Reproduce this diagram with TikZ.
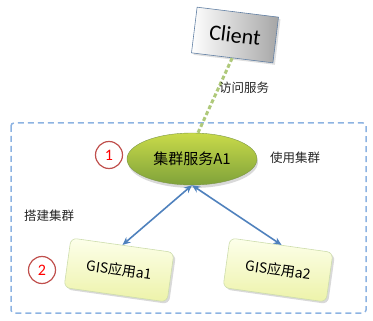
\documentclass[tikz,border=0pt]{standalone}
\usepackage{fontspec}
\setmainfont{Carlito}
\newfontfamily\cjk{Noto Sans CJK SC}
\usetikzlibrary{shapes.geometric,shadows,arrows.meta,calc}
\definecolor{frameblue}{HTML}{8DB3E2}
\definecolor{arrowblue}{HTML}{4F81BD}
\definecolor{lgreen}{HTML}{9BBB59}
\definecolor{dgreen}{HTML}{7FA23A}
\definecolor{circred}{HTML}{C0504D}
\tikzset{
  clientbox/.style={draw=arrowblue!60!gray, line width=0.6pt, minimum width=82pt, minimum height=46pt,
    left color=white, right color=gray!70, font=\fontsize{22}{24}\selectfont,
    drop shadow={opacity=0.25, shadow xshift=2pt, shadow yshift=-2pt}},
  appbox/.style={draw=lgreen!50, line width=0.6pt, rounded corners=6pt, minimum width=104pt, minimum height=50pt,
    top color=green!10!yellow!8, bottom color=lgreen!45!yellow!40, font=\cjk\fontsize{14}{16}\selectfont,
    drop shadow={opacity=0.3, shadow xshift=2pt, shadow yshift=-2pt}},
  svc/.style={ellipse, draw=lgreen!80!black, line width=0.4pt, minimum width=130pt, minimum height=52pt,
    top color=lgreen!60!yellow!90!white, bottom color=dgreen, inner sep=0pt, font=\cjk\fontsize{15}{17}\selectfont,
    drop shadow={opacity=0.3, shadow xshift=1pt, shadow yshift=-3pt}},
  numcirc/.style={circle, draw=circred, line width=1.2pt, minimum size=27pt, inner sep=0pt,
    text=red, font=\fontsize{16}{18}\selectfont, fill=white},
  lbl/.style={font=\cjk\fontsize{12.5}{14}\selectfont, text=black!85},
  link/.style={{Stealth[length=8pt,width=7pt]}-{Stealth[length=8pt,width=7pt]}, draw=arrowblue, line width=1.6pt},
}
\begin{document}
\begin{tikzpicture}[x=1pt,y=-1pt]
\useasboundingbox (0,0) rectangle (373,321);
\draw[frameblue, line width=1.5pt, dash pattern=on 6pt off 4pt, rounded corners=3pt] (11,123) rectangle (366,313);
\node[clientbox, rotate=-7] (client) at (235,35) {Client};
\node[svc] (svc) at (192,159) {集群服务A1};
\draw[lgreen!80, line width=3pt, dash pattern=on 4pt off 2.5pt] (client.south) -- ($(svc.north)+(6,0)$);
\node[lbl] (visit) at (244,88) {访问服务};
\node[numcirc] (n1) at (109,155) {1};
\node[lbl] (use) at (295,158) {使用集群};
\node[lbl] (build) at (49,216) {搭建集群};
\node[appbox, rotate=-8] (a1) at (119,270) {GIS应用a1};
\node[appbox, rotate=-8] (a2) at (278,270) {GIS应用a2};
\node[numcirc] (n2) at (42,270) {2};
\draw[link] (a1.north) -- (svc.south);
\draw[link] (a2.north) -- (svc.south);
\end{tikzpicture}
\end{document}
